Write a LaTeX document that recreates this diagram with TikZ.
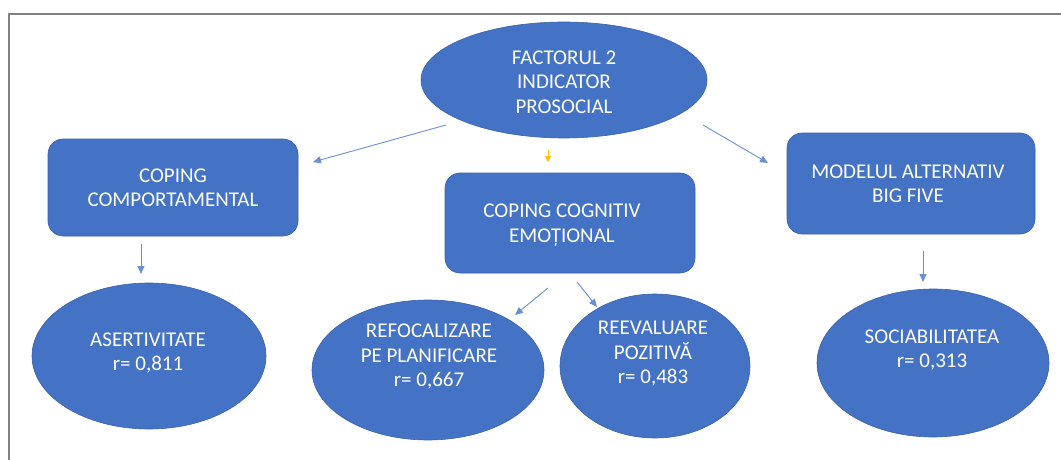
\documentclass[tikz,border=0pt]{standalone}
\usepackage{fontspec}
\setmainfont{Carlito}
\usetikzlibrary{shapes.geometric,arrows.meta}
\definecolor{office}{HTML}{4472C4}
\definecolor{officeedge}{HTML}{3A62AB}
\definecolor{linkblue}{HTML}{6A8FD3}
\definecolor{amber}{HTML}{FFC000}
\definecolor{frame}{HTML}{828282}
\begin{document}
\begin{tikzpicture}[x=1pt,y=-1pt,
  box/.style={fill=office, draw=officeedge, line width=0.6pt, rounded corners=15pt, inner sep=0pt},
  oval/.style={ellipse, fill=office, draw=officeedge, line width=0.6pt, inner sep=0pt},
  lbl/.style={text=white, align=center, inner sep=0pt, font=\fontsize{21}{24.5}\selectfont},
  link/.style={draw=linkblue, line width=0.9pt, -{Triangle[length=8pt,width=7pt]}},
  spark/.style={draw=amber, line width=0.9pt, -{Triangle[length=6pt,width=6pt]}}]

% page and frame
\path[use as bounding box] (0,0) rectangle (1061,460);
\draw[frame, line width=2pt] (1061,14) -- (9,14) -- (9,461);

% top factor
\node[oval, minimum width=286pt, minimum height=116pt] (top) at (564,80) {};
\node[lbl] (topt) at (564,82) {FACTORUL 2\\INDICATOR\\PROSOCIAL};

% second level boxes
\node[box, minimum width=250pt, minimum height=97pt] (beh) at (173,187.5) {};
\node[lbl] (beht) at (173,188) {COPING\\COMPORTAMENTAL};
\node[box, minimum width=250pt, minimum height=100pt] (cog) at (570,223) {};
\node[lbl] (cogt) at (562,225) {COPING COGNITIV\\EMOȚIONAL};
\node[box, minimum width=248pt, minimum height=101pt] (big) at (911,183.5) {};
\node[lbl] (bigt) at (908,184) {MODELUL ALTERNATIV\\BIG FIVE};

% third level ellipses
\node[oval, minimum width=234pt, minimum height=146pt] (as) at (149,356) {};
\node[lbl] (ast) at (148,353) {ASERTIVITATE\\r= 0,811};
\node[oval, minimum width=232pt, minimum height=140pt] (ref) at (428,370) {};
\node[lbl] (reft) at (429,357) {REFOCALIZARE\\PE PLANIFICARE\\r= 0,667};
\node[oval, minimum width=190pt, minimum height=144pt] (ree) at (655,366) {};
\node[lbl] (reet) at (653,354) {REEVALUARE\\POZITIVĂ\\r= 0,483};
\node[oval, minimum width=232pt, minimum height=148pt] (soc) at (933,363) {};
\node[lbl] (soct) at (932,350) {SOCIABILITATEA\\r= 0,313};

% connector ends
\coordinate (a1) at (446,125); \coordinate (b1) at (313,162);
\coordinate (a2) at (548,150); \coordinate (b2) at (548,162);
\coordinate (a3) at (703,125); \coordinate (b3) at (768,163);
\coordinate (a4) at (141,244); \coordinate (b4) at (141,274);
\coordinate (a5) at (548,288); \coordinate (b5) at (515,315);
\coordinate (a6) at (577,282); \coordinate (b6) at (597,307);
\coordinate (a7) at (923,251); \coordinate (b7) at (923,282);

\draw[link] (a1) -- (b1);
\draw[spark] (a2) -- (b2);
\draw[link] (a3) -- (b3);
\draw[link] (a4) -- (b4);
\draw[link] (a5) -- (b5);
\draw[link] (a6) -- (b6);
\draw[link] (a7) -- (b7);
\end{tikzpicture}
\end{document}
